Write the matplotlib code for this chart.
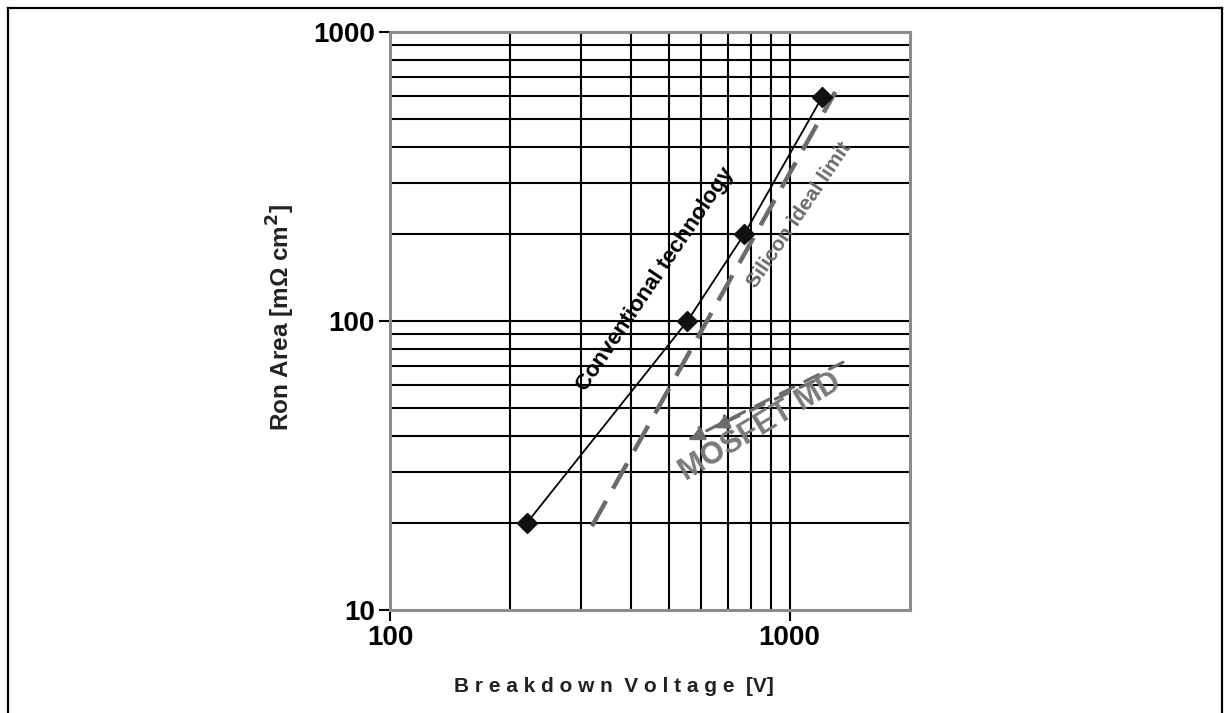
import matplotlib.pyplot as plt
from matplotlib.lines import Line2D

plt.rcParams['font.family'] = ['Liberation Sans', 'DejaVu Sans']
plt.rcParams['font.weight'] = 'bold'

# Conventional technology measured points
conv_voltage = [220, 555, 770, 1205]
conv_ron = [20, 100, 200, 595]

# Silicon ideal limit (straight line in log-log)
ideal_voltage = [320, 1300]
ideal_ron = [19.5, 620]

# MOSFET MD arrows: (start V, start Ron) -> (end V, end Ron)
md_arrows = [((1360, 72), (556, 38.7)),
             ((1150, 62), (642, 42.6))]

x_ticks = [100, 1000]
y_ticks = [10, 100, 1000]
x_grid = [200, 300, 400, 500, 600, 700, 800, 900, 1000]
y_grid = [20, 30, 40, 50, 60, 70, 80, 90, 100,
          200, 300, 400, 500, 600, 700, 800, 900]

GRAY = '#6b6b6b'

fig = plt.figure(figsize=(12.31, 7.13), dpi=100)
ax = fig.add_axes([390 / 1231, 103 / 713, 520 / 1231, 578 / 713])
ax.set_xscale('log')
ax.set_yscale('log')
ax.set_xlim(100, 2000)
ax.set_ylim(10, 1000)

for v in x_grid:
    ax.axvline(v, color='black', lw=1.5, zorder=1)
for r in y_grid:
    ax.axhline(r, color='black', lw=1.5, zorder=1)

ax.plot(ideal_voltage, ideal_ron, color=GRAY, lw=3.2, dashes=(6.5, 3.2),
        solid_capstyle='butt', dash_capstyle='butt', zorder=3)
ax.plot(conv_voltage, conv_ron, color='black', lw=1.3, marker='D',
        markersize=10, markerfacecolor='#111111', markeredgecolor='#111111',
        zorder=4)

for (x0, y0), (x1, y1) in md_arrows:
    ax.annotate('', xy=(x1, y1), xytext=(x0, y0),
                arrowprops=dict(arrowstyle='-|>,head_length=0.9,head_width=0.45',
                                color=GRAY, lw=2.2, linestyle=(0, (5, 4)),
                                shrinkA=0, shrinkB=0),
                zorder=5)

ax.text(460, 139, 'Conventional technology', rotation=56, fontsize=16,
        fontweight='bold', color='black', ha='center', va='center', zorder=6)
ax.text(1060, 233, 'Silicon ideal limit', rotation=56, fontsize=15,
        fontweight='bold', color=GRAY, ha='center', va='center', zorder=6)
ax.text(846, 43.0, 'MOSFET MD', rotation=31, fontsize=22,
        fontweight='bold', color='#7a7a7a', ha='center', va='center', zorder=6)

ax.set_xticks(x_ticks)
ax.set_xticklabels([str(t) for t in x_ticks])
ax.set_yticks(y_ticks)
ax.set_yticklabels([str(t) for t in y_ticks])
ax.minorticks_off()
ax.tick_params(axis='both', direction='out', length=8, width=1.5,
               labelsize=20, pad=3)
for lbl in ax.get_xticklabels() + ax.get_yticklabels():
    lbl.set_fontweight('bold')

for s in ax.spines.values():
    s.set_color('#8c8c8c')
    s.set_linewidth(2.2)

ax.set_xlabel('B r e a k d o w n  V o l t a g e  [V]', fontsize=15,
              fontweight='bold', color='#222222')
ax.xaxis.set_label_coords((614 - 390) / 520, -(677 - 610) / 578)
ax.set_ylabel('Ron Area [m\u03a9 cm$^\\mathbf{2}$]', fontsize=17.5,
              fontweight='bold', color='#222222')
ax.yaxis.set_label_coords(-(390 - 297) / 520, (610 - 318) / 578)

# outer frame of the figure
fx0, fx1, fy = 8 / 1231, 1222 / 1231, 1 - 8 / 713
for xs, ys in [([fx0, fx0], [0, fy]), ([fx0, fx1], [fy, fy]), ([fx1, fx1], [fy, 0])]:
    fig.add_artist(Line2D(xs, ys, color='black', lw=1.6, transform=fig.transFigure))

fig.savefig('out.png', dpi=100)
